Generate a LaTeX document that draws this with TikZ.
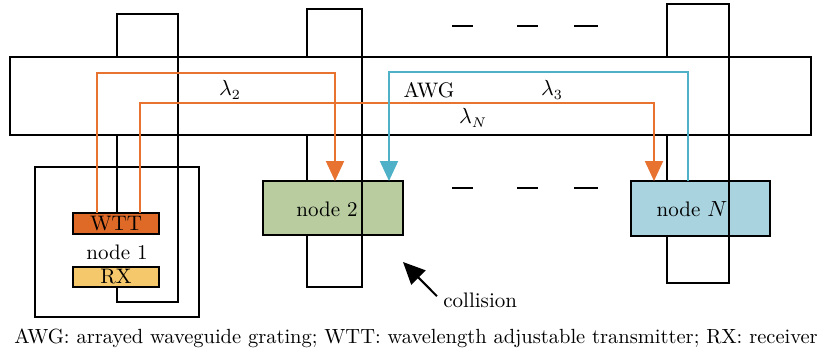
\documentclass[tikz,border=0pt]{standalone}
\usetikzlibrary{arrows.meta}
\definecolor{orl}{HTML}{E8722F}
\definecolor{bll}{HTML}{4FB1C7}
\definecolor{wttc}{HTML}{DF6A28}
\definecolor{rxc}{HTML}{F5C86C}
\definecolor{n2c}{HTML}{B8CC9F}
\definecolor{nNc}{HTML}{A9D3DF}
\begin{document}
\begin{tikzpicture}[x=0.5pt,y=-0.5pt,
  blk/.style={line width=1pt,black},
  box/.style={draw,line width=1pt,inner sep=0pt,outer sep=0pt},
  ol/.style={line width=1pt,orl},
  bl/.style={line width=1pt,bll},
  tip/.style={-{Triangle[length=10pt,width=9pt]}},
  dsh/.style={line width=1pt},
  txt/.style={font=\fontsize{10.5}{12}\selectfont,inner sep=0pt}]
\useasboundingbox (0,0) rectangle (830,360);
% AWG bar
\node[box,minimum width=400.5pt,minimum height=39pt] (awg) at (410.5,96) {};
% node boxes
\node[box,minimum width=82pt,minimum height=75pt] (n1) at (117,242) {};
\node[box,fill=wttc,minimum width=43pt,minimum height=10.5pt,txt] (wtt) at (116,223.5) {WTT};
\node[box,fill=rxc,minimum width=43pt,minimum height=10pt,txt] (rx) at (116,277) {RX};
\node[txt] (n1t) at (117,252) {node 1};
\node[box,fill=n2c,minimum width=70pt,minimum height=27pt] (n2) at (333,208) {};
\node[txt] (n2t) at (327,209) {node 2};
\node[box,fill=nNc,minimum width=69.5pt,minimum height=27.5pt] (nN) at (700.5,208.5) {};
\node[txt] (nNt) at (692,209) {node $N$};
% rings (node 1)
\draw[blk] (117,57) -- (117,14) -- (178,14) -- (178,302) -- (117,302) -- (117,287);
\draw[blk] (117,135) -- (117,213);
% rings (node 2)
\draw[blk] (307,57) -- (307,9) -- (362,9) -- (362,287) -- (307,287) -- (307,235);
\draw[blk] (307,135) -- (307,181);
% rings (node N)
\draw[blk] (667,57) -- (667,4) -- (729,4) -- (729,283) -- (667,283) -- (667,236);
\draw[blk] (667,135) -- (667,181);
% wavelength paths
\coordinate (a1) at (97,73);
\coordinate (a2) at (335,73);
\draw[ol,tip] (wtt.north -| a1) |- (a2) -- (a2 |- n2.north);
\coordinate (b1) at (140,103);
\coordinate (b2) at (654,103);
\draw[ol,tip] (wtt.north -| b1) |- (b2) -- (b2 |- nN.north);
\coordinate (c1) at (688,72);
\coordinate (c2) at (389,72);
\draw[bl,tip] (nN.north -| c1) |- (c2) -- (c2 |- n2.north);
% labels
\node[txt] (l2) at (230,90) {$\lambda_2$};
\node[txt] (awgt) at (429,90) {AWG};
\node[txt] (l3) at (552,90) {$\lambda_3$};
\node[txt] (lN) at (473,118) {$\lambda_N$};
% dashes
\foreach \y in {26,188}{
  \draw[dsh] (452,\y) -- (473,\y);
  \draw[dsh] (517,\y) -- (538,\y);
  \draw[dsh] (574,\y) -- (598,\y);
}
% collision
\node[txt,anchor=west] (col) at (443,300) {collision};
\coordinate (ct) at (403,262);
\draw[line width=1pt,-{Triangle[length=11pt,width=10pt]}] (col.north west) ++(-6,4) -- (ct);
% caption
\node[inner sep=0pt,font=\fontsize{10.25}{12}\selectfont] (cap) at (416,338) {AWG: arrayed waveguide grating; WTT: wavelength adjustable transmitter; RX: receiver};
\end{tikzpicture}
\end{document}
